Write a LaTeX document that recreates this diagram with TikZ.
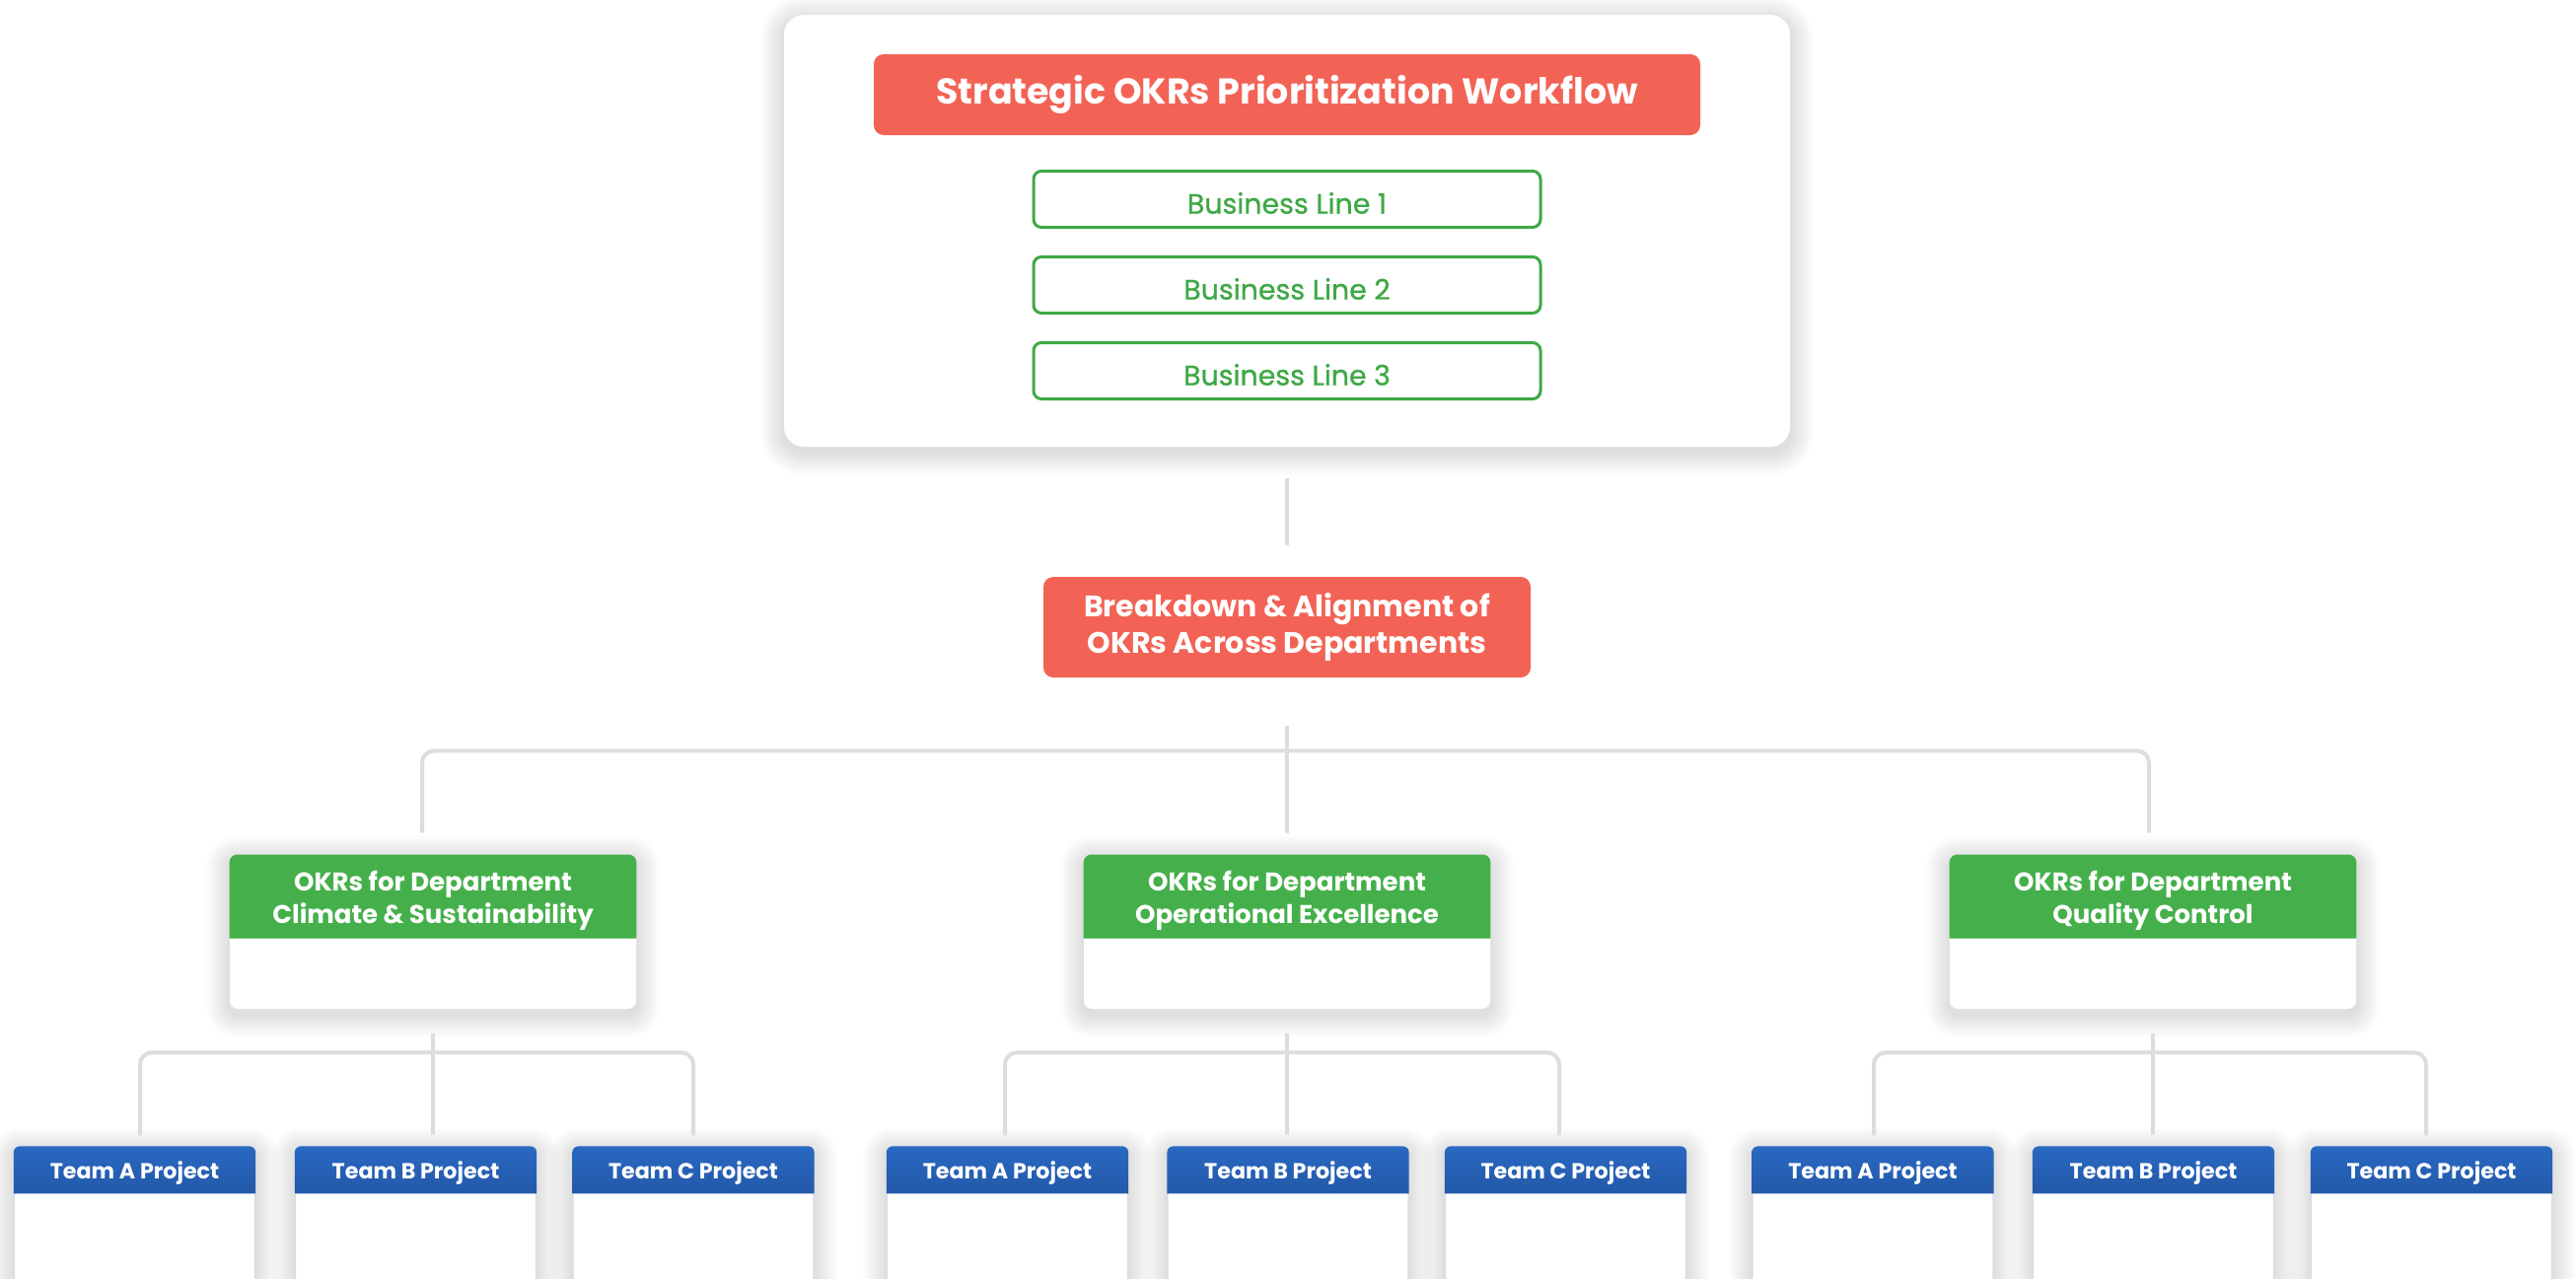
\documentclass[tikz,border=0pt]{standalone}
\usepackage{fontspec}
\setmainfont{Poppins}
\newfontfamily\poppinsmed[FakeBold=0.8]{Poppins}

\pgfdeclarelayer{shadow}
\pgfsetlayers{shadow,main}

\definecolor{okred}{HTML}{F26356}
\definecolor{okgreen}{HTML}{45B04B}
\definecolor{lngreen}{HTML}{3FA846}
\definecolor{okblue}{HTML}{2969C2}
\definecolor{okbluedk}{HTML}{2358A8}
\definecolor{linkgray}{HTML}{DDDDDD}
\definecolor{edgegray}{HTML}{D5DDEA}

\tikzset{
  card/.style={fill=white, rounded corners=10pt,
      minimum width=510pt, minimum height=219pt},
  titlebox/.style={fill=okred, rounded corners=5pt, text=white,
      minimum width=419pt, minimum height=41pt, inner sep=0pt,
      font=\fontsize{18.2pt}{22pt}\selectfont\bfseries},
  linebox/.style={draw=lngreen, line width=1.5pt, fill=white, rounded corners=4pt,
      minimum width=257pt, minimum height=28.5pt, inner sep=0pt},
  linetext/.style={text=lngreen, inner sep=0pt,
      font=\fontsize{14.2pt}{16pt}\poppinsmed},
  redbox/.style={fill=okred, rounded corners=5pt, text=white, align=center,
      minimum width=247pt, minimum height=51pt, inner sep=0pt,
      font=\fontsize{15pt}{18.5pt}\selectfont\bfseries},
  deptbody/.style={fill=white, rounded corners=4pt,
      minimum width=206pt, minimum height=78pt, inner sep=0pt},
  depthead/.style={text=white, align=center, inner sep=0pt,
      font=\fontsize{13pt}{16.5pt}\selectfont\bfseries},
  teambody/.style={draw=edgegray, line width=0.6pt, fill=white, rounded corners=3pt,
      minimum width=122pt, minimum height=80pt, inner sep=0pt},
  teamhead/.style={text=white, inner sep=0pt,
      font=\fontsize{11.1pt}{13pt}\selectfont\bfseries},
  link/.style={draw=linkgray, line width=2pt},
}

% soft shadow: stacked faint rounded rectangles behind a node
\newcommand\castshadow[2]{%
  \begin{pgfonlayer}{shadow}
    \foreach \k in {1,...,16}{
      \fill[black, fill opacity=0.0095, rounded corners=#2+\k*0.75pt]
        ([xshift=-\k*0.75pt, yshift=-2.5pt-\k*0.75pt]#1.south west)
        rectangle ([xshift=\k*0.75pt, yshift=-2.5pt+\k*0.75pt]#1.north east);
    }
  \end{pgfonlayer}
}

% department card: white body with a green heading band
\newcommand\deptcard[3]{%
  \node[deptbody] (#1) at (#2,945) {};
  \castshadow{#1}{4pt}
  \fill[okgreen] ([yshift=-42.5pt]#1.north west) [rounded corners=4pt]
    -- (#1.north west) -- (#1.north east) [sharp corners]
    -- ([yshift=-42.5pt]#1.north east) -- cycle;
  \node[depthead] (#1h) at ([yshift=-23.5pt]#1.north) {OKRs for Department\\#3};
}

% team card: white body with a blue heading band
\newcommand\teamcard[3]{%
  \node[teambody] (#1) at (#2,1243) {};
  \castshadow{#1}{3pt}
  \shade[top color=okblue, bottom color=okbluedk]
    ([yshift=-24pt]#1.north west) [rounded corners=3pt]
    -- (#1.north west) -- (#1.north east) [sharp corners]
    -- ([yshift=-24pt]#1.north east) -- cycle;
  \node[teamhead] (#1h) at ([yshift=-13.5pt]#1.north) {Team #3 Project};
}

% business line: green outlined box with its label
\newcommand\busline[3]{%
  \node[linebox] (#1) at (1305,#2) {};
  \node[linetext] (#1t) at ([yshift=-2pt]#1.center) {#3};
}

\begin{document}
\begin{tikzpicture}[x=0.5pt, y=-0.5pt]
\begin{pgfonlayer}{shadow}
  \fill[white] (0,0) rectangle (2612,1296);
\end{pgfonlayer}
\useasboundingbox (0,0) rectangle (2612,1296);

% strategic block
\node[card] (top) at (1305,234) {};
\castshadow{top}{10pt}
\node[titlebox] (title) at (1305,96) {Strategic OKRs Prioritization Workflow};
\busline{bl1}{202}{Business Line 1}
\busline{bl2}{289}{Business Line 2}
\busline{bl3}{376}{Business Line 3}

% breakdown
\node[redbox] (brk) at (1305,636) {Breakdown \& Alignment of\\OKRs Across Departments};
\draw[link] ([yshift=-16pt]top.south) -- ([yshift=16pt]brk.north);

% departments
\deptcard{dL}{439}{Climate \& Sustainability}
\deptcard{dM}{1305}{Operational Excellence}
\deptcard{dR}{2183}{Quality Control}

\draw[link] ([yshift=-24.5pt]brk.south) -- ([yshift=11pt]dM.north);
\draw[link, rounded corners=6pt] ([xshift=-5.5pt,yshift=11pt]dL.north)
  |- ([yshift=-37pt]brk.south) -| ([xshift=-2pt,yshift=11pt]dR.north);

% teams
\teamcard{tLA}{136.5}{A}
\teamcard{tLB}{421.5}{B}
\teamcard{tLC}{703}{C}
\teamcard{tMA}{1021.5}{A}
\teamcard{tMB}{1306}{B}
\teamcard{tMC}{1587.5}{C}
\teamcard{tRA}{1899}{A}
\teamcard{tRB}{2183.5}{B}
\teamcard{tRC}{2465.5}{C}

% each department fans out to its three teams
\foreach \g/\ax/\cx in {L/2.75pt/0pt, M/-1.25pt/-3.25pt, R/0.5pt/-2.75pt}{
  \path (d\g.south |- t\g B.north) coordinate (j\g);
  \draw[link] ([yshift=-12.5pt]d\g.south) -- ([yshift=5.5pt]j\g);
  \draw[link, rounded corners=6pt] ([xshift=\ax,yshift=5.5pt]t\g A.north)
    |- ([yshift=-22pt]d\g.south) -| ([xshift=\cx,yshift=5.5pt]t\g C.north);
}
\end{tikzpicture}
\end{document}
